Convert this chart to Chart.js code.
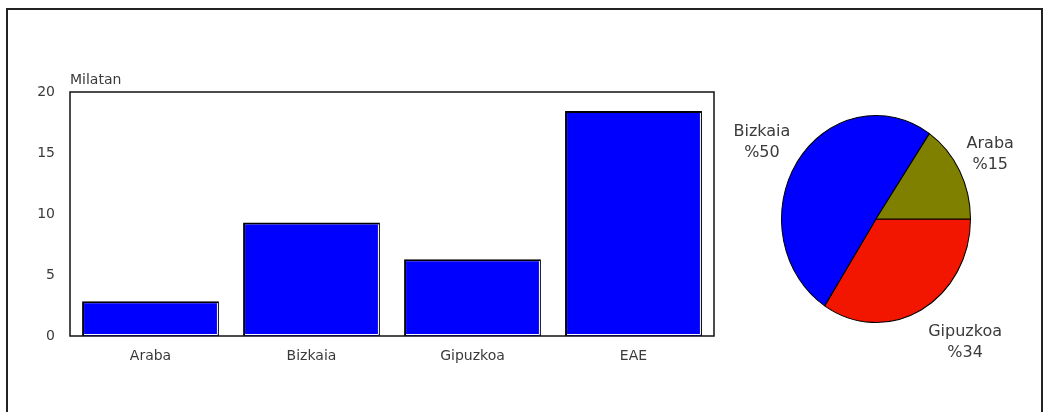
<!DOCTYPE html>
<html>
<head>
<meta charset="utf-8">
<script src="https://cdn.jsdelivr.net/npm/chart.js@4.4.1/dist/chart.umd.min.js"></script>
<style>
  html, body { margin: 0; padding: 0; background: #fff; }
  #frame { position: absolute; left: 6px; top: 8px; width: 1033px; height: 402px; border: 2px solid #222; border-bottom: none; box-sizing: content-box; }
  #bar { position: absolute; left: 0; top: 0; }
  #pie { position: absolute; left: 730px; top: 0; }
</style>
</head>
<body>
<div id="frame"></div>
<canvas id="bar" width="730" height="417"></canvas>
<canvas id="pie" width="320" height="417"></canvas>
<script>
// Bar chart: values in thousands per territory
const regions = ['Araba', 'Bizkaia', 'Gipuzkoa', 'EAE'];
const thousands = [2.85, 9.3, 6.3, 18.45];
const yTicks = [0, 5, 10, 15, 20];
const unitLabel = 'Milatan';

// Pie chart: share of each province (drawn clockwise from three o'clock)
const provinces = ['Gipuzkoa', 'Bizkaia', 'Araba'];
const provinceValues = [6.3, 9.3, 2.85];
const provinceColors = ['#f21500', '#0000ff', '#808000'];

const FONT = 'DejaVu Sans';
const TEXT = '#3a3a3a';

// Plot frame, unit caption and light bevel on the bars
const barDecor = {
  id: 'barDecor',
  afterDatasetsDraw(chart) {
    const ctx = chart.ctx;
    const a = chart.chartArea;
    ctx.save();
    chart.getDatasetMeta(0).data.forEach(b => {
      const p = b.getProps(['x', 'y', 'base', 'width'], true);
      const l = p.x - p.width / 2, r = p.x + p.width / 2;
      ctx.strokeStyle = '#fff';
      ctx.lineWidth = 1;
      ctx.beginPath();
      ctx.moveTo(r - 1.5, p.y + 2);
      ctx.lineTo(r - 1.5, p.base - 1.5);
      ctx.lineTo(l + 2, p.base - 1.5);
      ctx.stroke();
    });
    ctx.strokeStyle = '#111';
    ctx.lineWidth = 1.5;
    ctx.strokeRect(a.left, a.top, a.right - a.left, a.bottom - a.top);
    ctx.fillStyle = TEXT;
    ctx.font = '14px "' + FONT + '"';
    ctx.textAlign = 'left';
    ctx.textBaseline = 'alphabetic';
    ctx.fillText(unitLabel, a.left, a.top - 8);
    ctx.restore();
  }
};

new Chart(document.getElementById('bar'), {
  type: 'bar',
  data: {
    labels: regions,
    datasets: [{
      data: thousands,
      backgroundColor: '#0000ff',
      borderColor: '#000',
      borderWidth: { top: 2, left: 2, right: 1, bottom: 0 },
      borderSkipped: false,
      barPercentage: 0.85,
      categoryPercentage: 1
    }]
  },
  options: {
    responsive: false,
    animation: false,
    layout: { padding: { left: 0, top: 92, right: 16, bottom: 0 } },
    plugins: { legend: { display: false }, tooltip: { enabled: false } },
    scales: {
      x: {
        grid: { display: false, drawTicks: false },
        border: { display: false },
        ticks: { color: TEXT, font: { family: FONT, size: 14 }, padding: 12 },
        afterFit(s) { s.height = 81; }
      },
      y: {
        min: 0, max: 20,
        afterBuildTicks(s) { s.ticks = yTicks.map(v => ({ value: v })); },
        grid: { display: false, drawTicks: false },
        border: { display: false },
        ticks: { color: TEXT, font: { family: FONT, size: 14 }, padding: 15 },
        afterFit(s) { s.width = 70; }
      }
    }
  },
  plugins: [barDecor]
});

// Slightly taller-than-wide pie
const STRETCH_Y = 1.095;
const pieStretch = {
  id: 'pieStretch',
  beforeDatasetsDraw(chart) {
    const a = chart.chartArea, ctx = chart.ctx;
    const cx = (a.left + a.right) / 2, cy = (a.top + a.bottom) / 2;
    ctx.save();
    ctx.translate(cx, cy);
    ctx.scale(1, STRETCH_Y);
    ctx.translate(-cx, -cy);
  },
  afterDatasetsDraw(chart) { chart.ctx.restore(); }
};

// Name and rounded share placed just outside each slice's rim
const pieLabels = {
  id: 'pieLabels',
  afterDraw(chart) {
    const ctx = chart.ctx;
    const vals = chart.data.datasets[0].data;
    const total = vals.reduce((s, v) => s + v, 0);
    ctx.save();
    ctx.fillStyle = TEXT;
    ctx.font = '16px "' + FONT + '"';
    ctx.textAlign = 'center';
    ctx.textBaseline = 'middle';
    chart.getDatasetMeta(0).data.forEach((arc, i) => {
      const p = arc.getProps(['x', 'y', 'startAngle', 'endAngle', 'outerRadius'], true);
      const mid = (p.startAngle + p.endAngle) / 2;
      const c = Math.cos(mid), s = Math.sin(mid);
      const rimX = p.x + c * p.outerRadius;
      const rimY = p.y + s * p.outerRadius * STRETCH_Y;
      const name = chart.data.labels[i];
      const pct = '%' + Math.round(vals[i] / total * 100);
      const hw = Math.max(ctx.measureText(name).width, ctx.measureText(pct).width) / 2;
      const lx = rimX + Math.sign(c) * (hw + 7);
      const ly = rimY + s * 36;
      ctx.fillText(name, lx, ly - 10);
      ctx.fillText(pct, lx, ly + 11);
    });
    ctx.restore();
  }
};

new Chart(document.getElementById('pie'), {
  type: 'pie',
  data: {
    labels: provinces,
    datasets: [{
      data: provinceValues,
      backgroundColor: provinceColors,
      borderColor: '#000',
      borderWidth: 1
    }]
  },
  options: {
    responsive: false,
    animation: false,
    rotation: 90,
    layout: { padding: { left: 51, right: 79, top: 124, bottom: 103 } },
    plugins: { legend: { display: false }, tooltip: { enabled: false } }
  },
  plugins: [pieStretch, pieLabels]
});
</script>
</body>
</html>
